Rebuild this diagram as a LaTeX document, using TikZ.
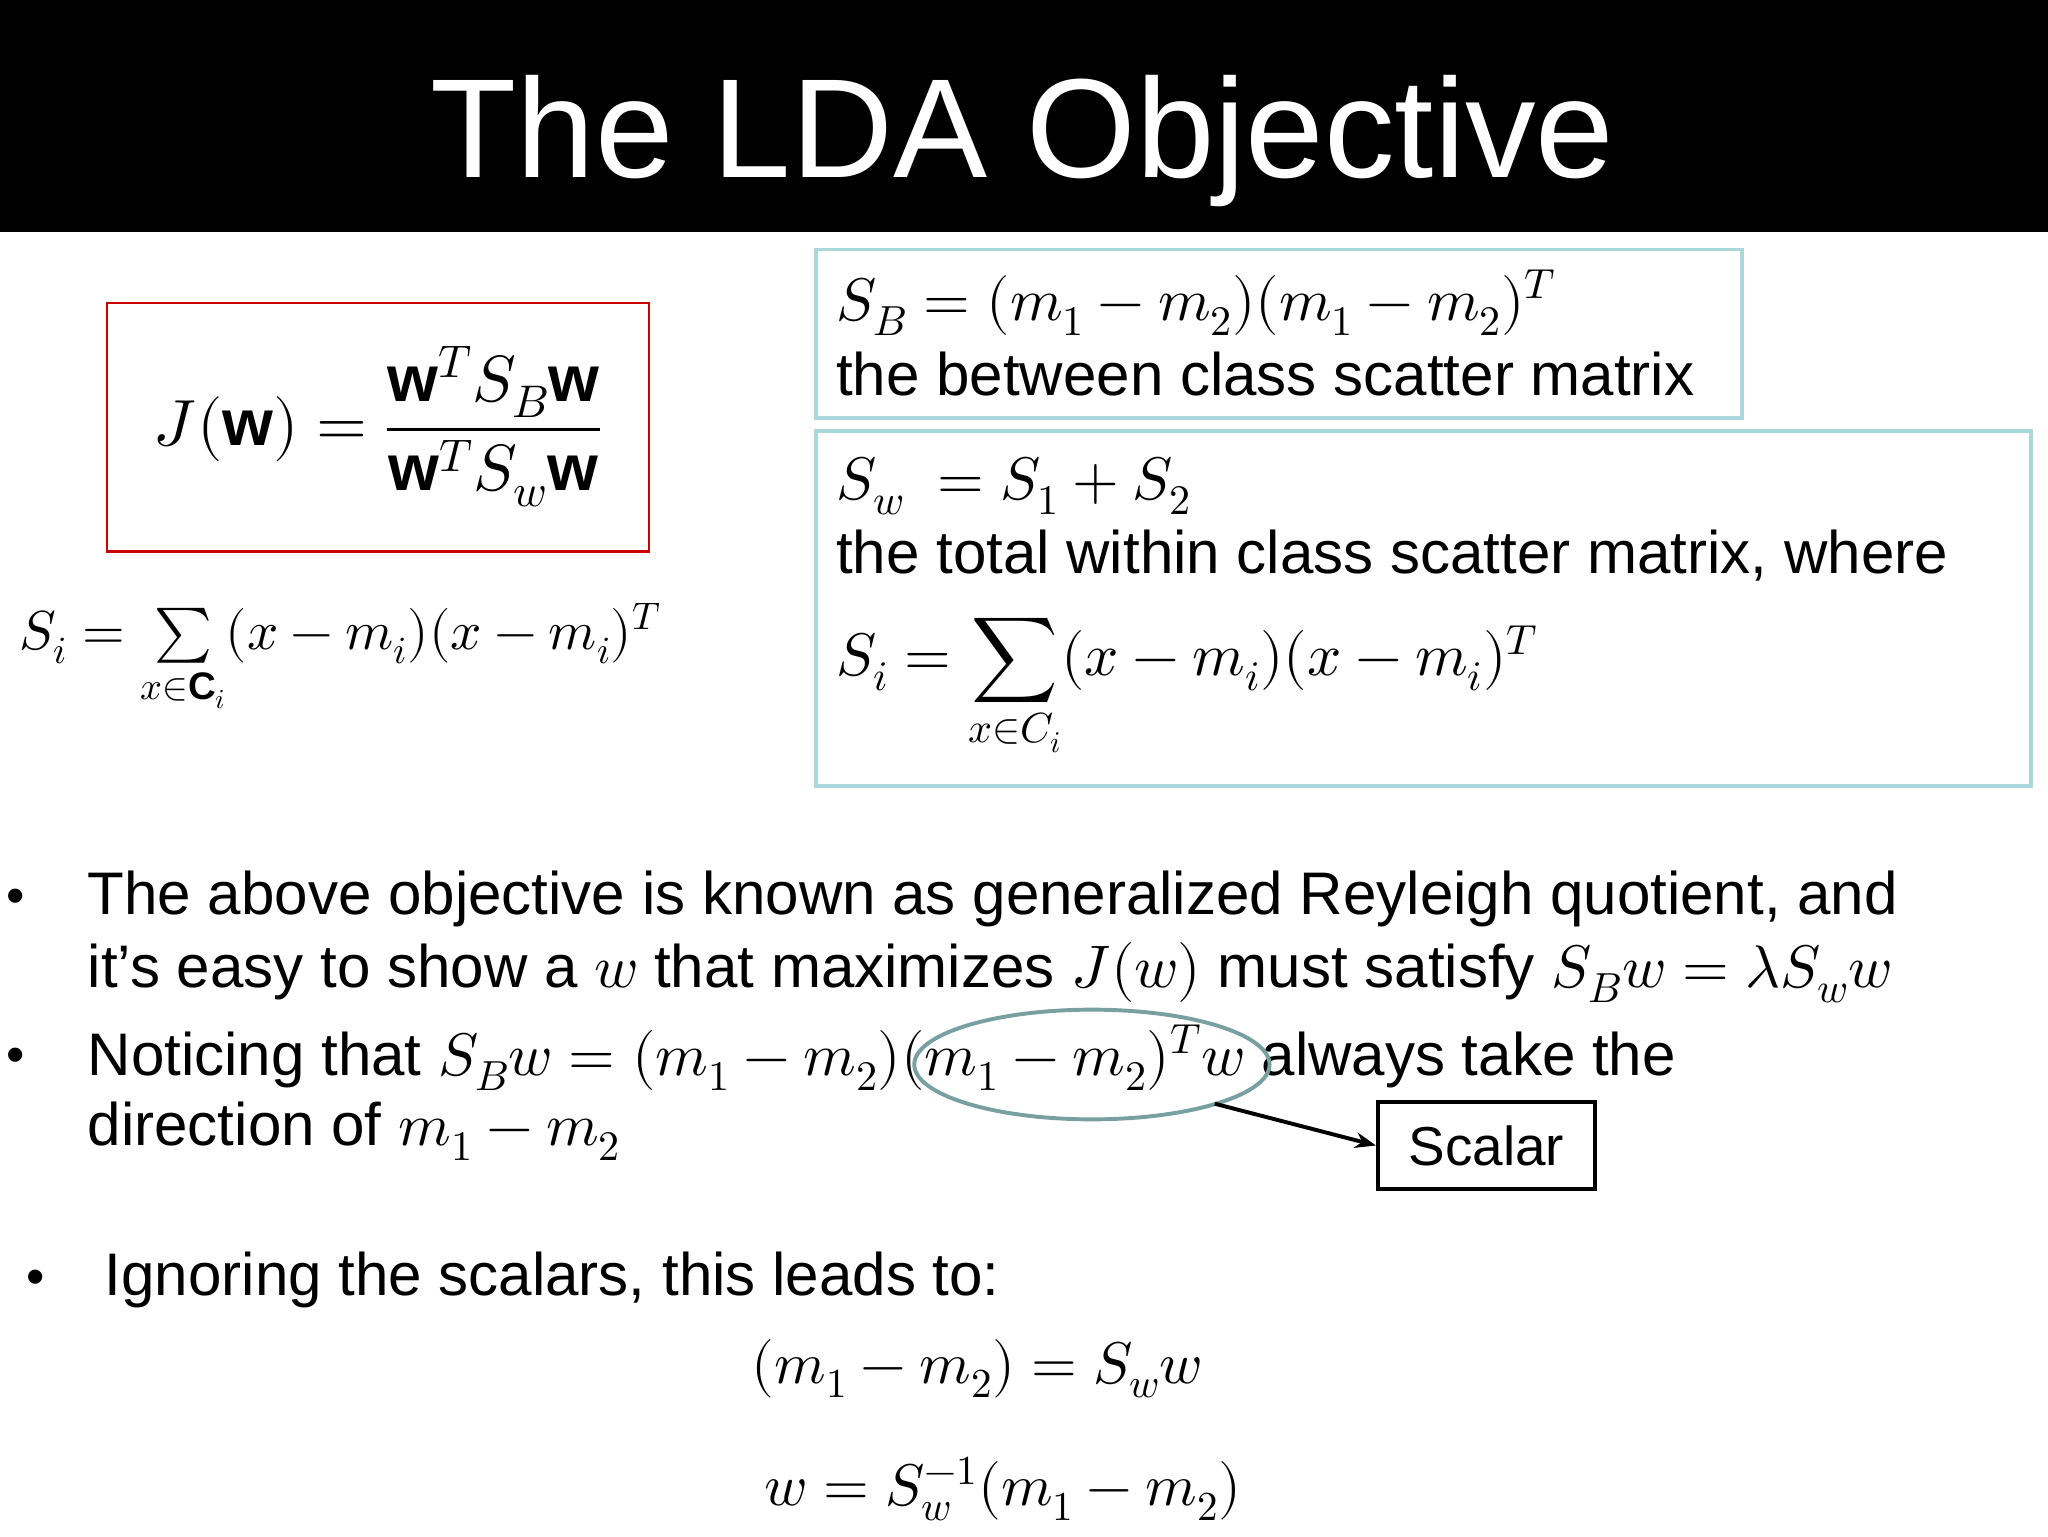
\documentclass[tikz,border=0pt]{standalone}
\usepackage{amsmath}
\usepackage{unicode-math}
\setmainfont{Liberation Sans}
\setmathfont{Latin Modern Math}
\usetikzlibrary{arrows.meta}
\definecolor{boxcyan}{RGB}{170,215,218}
\definecolor{ellc}{RGB}{120,160,160}
\tikzset{
  body/.style={anchor=west,inner sep=0,font=\fontsize{46}{54}\selectfont},
  mathnode/.style={inner sep=0,font=\fontsize{45}{54}\selectfont},
  bullet/.style={anchor=center,inner sep=0,font=\fontsize{40}{48}\selectfont}
}
\begin{document}
\begin{tikzpicture}[x=1pt,y=-1pt]
\useasboundingbox (0,0) rectangle (1568,1176);
\fill[white] (0,0) rectangle (1568,1176);
\fill[black] (0,0) rectangle (1568,178);
\node[text=white,inner sep=0,font=\fontsize{108}{120}\selectfont] (title) at (783,108) {The LDA Objective};
% red box
\draw[red!80!black,line width=2pt] (82,232) rectangle (497,422);
\node[inner sep=0,font=\fontsize{50}{60}\selectfont] (J) at (289,327) {$J(\mathbf{w})=\dfrac{\mathbf{w}^T S_B\mathbf{w}}{\mathbf{w}^T S_w\mathbf{w}}$};
\node[inner sep=0,anchor=west,font=\fontsize{42}{50}\selectfont] (Si) at (15,505) {$S_i=\sum\limits_{x\in\mathbf{C}_i}(x-m_i)(x-m_i)^T$};
% cyan boxes
\draw[boxcyan,line width=3pt] (625,191) rectangle (1334,320);
\node[body] (sb) at (640,232) {$S_B=(m_1-m_2)(m_1-m_2)^T$};
\node[body] (sbt) at (640,286) {the between class scatter matrix};
\draw[boxcyan,line width=3pt] (625,330) rectangle (1555,602);
\node[body] (sw) at (640,372) {$S_w\ =S_1+S_2$};
\node[body] (swt) at (640,425) {the total within class scatter matrix, where};
\node[body] (si2) at (640,528) {$S_i=\displaystyle\sum_{x\in C_i}(x-m_i)(x-m_i)^T$};
% bullets
\node[bullet] (b1) at (12,690) {•};
\node[body] (l1) at (67,688) {The above objective is known as generalized Reyleigh quotient, and};
\node[body] (l2) at (67,745) {it's easy to show a $w$ that maximizes $J(w)$ must satisfy $S_Bw=\lambda S_ww$};
\node[bullet] (b2) at (12,812) {•};
\node[body] (l3) at (67,810) {Noticing that $S_Bw=(m_1-m_2)(m_1-m_2)^Tw$ always take the};
\node[body] (l4) at (67,866) {direction of $m_1-m_2$};
\node[bullet] (b3) at (27,982) {•};
\node[body] (l5) at (80,980) {Ignoring the scalars, this leads to:};
\node[mathnode] (e1) at (748,1048) {$(m_1-m_2)=S_ww$};
\node[mathnode] (e2) at (768,1140) {$w=S_w^{-1}(m_1-m_2)$};
% ellipse and scalar
\draw[ellc,line width=3pt] (836,815) ellipse [x radius=136, y radius=42];
\node[draw,line width=3pt,minimum width=166,minimum height=66,inner sep=0,font=\fontsize{42}{50}\selectfont] (sc) at (1138,877) {Scalar};
\coordinate (es) at (930,845);
\draw[line width=3pt,-{Stealth[length=16pt]}] (es) -- (sc.west);
\end{tikzpicture}
\end{document}
